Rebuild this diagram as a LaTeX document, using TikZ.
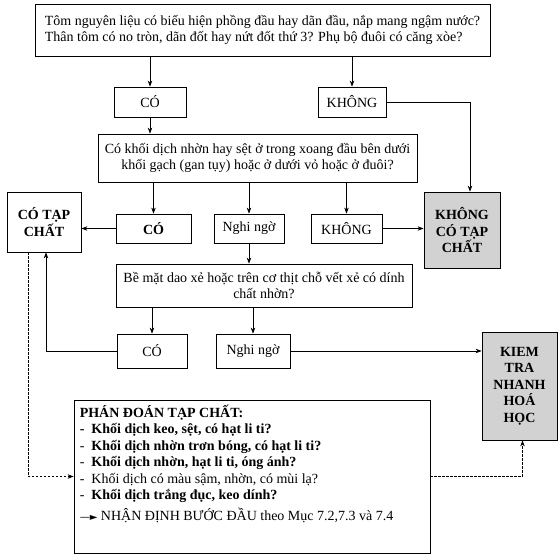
\documentclass[tikz,border=0pt]{standalone}
\usepackage{fontspec}
\setmainfont{Liberation Serif}
\newfontfamily\symfont{DejaVu Sans}
\usetikzlibrary{arrows.meta}

\tikzset{
  box/.style={draw, line width=0.8pt, align=center, inner sep=2pt},
  bbox/.style={box, font=\fontsize{14}{16.5}\selectfont\bfseries},
  gbox/.style={bbox, fill=gray!35},
  arr/.style={-{Stealth[length=6pt,width=4.5pt]}, line width=0.7pt},
  darr/.style={arr, dash pattern=on 2.5pt off 1.5pt},
}

\begin{document}
\begin{tikzpicture}[x=1pt,y=-1pt,font=\fontsize{14}{16.5}\selectfont]
          \useasboundingbox (0,0) rectangle (560,557);
          % first question
          \node[box, align=left, minimum width=455pt, minimum height=52pt] (q1) at (262.5,30)
            {Tôm nguyên liệu có biểu hiện phồng đầu hay dãn đầu, nắp mang ngậm nước?\\
             Thân tôm có no tròn, dãn đốt hay nứt đốt thứ 3? Phụ bộ đuôi có căng xòe?};
          \node[box, minimum width=72pt, minimum height=30pt] (co1) at (150,102) {CÓ};
          \node[box, minimum width=68pt, minimum height=30pt] (khong1) at (352,102) {KHÔNG};
          % second question
          \node[box, minimum width=319pt, minimum height=48pt] (q2) at (257.5,158)
            {Có khối dịch nhờn hay sệt ở trong xoang đầu bên dưới\\
             khối gạch (gan tụy) hoặc ở dưới vỏ hoặc ở đuôi?};
          \node[bbox, minimum width=74pt, minimum height=60pt] (ctc) at (44,222) {CÓ TẠP\\CHẤT};
          \node[bbox, minimum width=75pt, minimum height=29pt] (co2) at (153.5,228.5) {CÓ};
          \node[box, minimum width=70pt, minimum height=29pt] (ngo2) at (249,228.5) {Nghi ngờ};
          \node[box, minimum width=71pt, minimum height=29pt] (khong2) at (346.5,228.5) {KHÔNG};
          \node[gbox, minimum width=76pt, minimum height=76pt] (kctc) at (462,230) {KHÔNG\\CÓ TẠP\\CHẤT};
          % third question
          \node[box, minimum width=296pt, minimum height=43pt] (q3) at (264,285.5)
            {Bề mặt dao xẻ hoặc trên cơ thịt chỗ vết xẻ có dính\\chất nhờn?};
          \node[box, minimum width=70pt, minimum height=34pt] (co3) at (152,351) {CÓ};
          \node[box, minimum width=74pt, minimum height=34pt] (ngo3) at (253,351) {Nghi ngờ};
          \node[gbox, minimum width=75pt, minimum height=108pt] (ktra) at (519.5,386) {KIEM\\TRA\\NHANH\\HOÁ\\HỌC};
          % judgement box
          \node[box, minimum width=356pt, minimum height=153pt] (pd) at (252,476.5) {};
          \node[anchor=north west, align=left, inner sep=0pt] (pdtext) at ([shift={(6pt,-5pt)}]pd.north west)
            {\bfseries PHÁN ĐOÁN TẠP CHẤT:\\
             \bfseries -\ \ Khối dịch keo, sệt, có hạt li ti?\\
             -\ \ \bfseries Khối dịch nhờn trơn bóng, có hạt li ti?\\
             -\ \ \bfseries Khối dịch nhờn, hạt li ti, óng ánh?\\
             -\ \ Khối dịch có màu sậm, nhờn, có mùi lạ?\\
             -\ \ \bfseries Khối dịch trắng đục, keo dính?\\[4pt]
             {\symfont\fontsize{10}{16}\selectfont —►} NHẬN ĐỊNH BƯỚC ĐẦU theo Mục 7.2,7.3 và 7.4};

          % connectors
          \draw[arr] (co1.north |- q1.south) -- (co1.north);%
          \draw[arr] (khong1.north |- q1.south) -- (khong1.north);%
          \draw[arr] (khong1.east) -| ([xshift=8pt]kctc.north);%
          \draw[arr] (co1.south) -- (co1.south |- q2.north);%
          \draw[arr] (co2.north |- q2.south) -- (co2.north);%
          \draw[arr] (ngo2.north |- q2.south) -- (ngo2.north);%
          \draw[arr] (khong2.north |- q2.south) -- (khong2.north);%
          \draw[arr] (co2.west) -- (ctc.east |- co2.west);%
          \draw[arr] (khong2.east) -- (kctc.west |- khong2.east);%
          \draw[arr] (ngo2.south) -- (ngo2.south |- q3.north);%
          \draw[arr] (co3.north |- q3.south) -- (co3.north);%
          \draw[arr] (ngo3.north |- q3.south) -- (ngo3.north);%
          \draw[arr] (ngo3.east) -- (ktra.west |- ngo3.east);%
          \draw[arr] (co3.west) -| ([xshift=2pt]ctc.south);%
          \draw[darr] ([xshift=-16pt]ctc.south) |- (pd.west);%
          \draw[darr] (pd.east) -| ([xshift=3pt]ktra.south);%
    \end{tikzpicture}
\end{document}
